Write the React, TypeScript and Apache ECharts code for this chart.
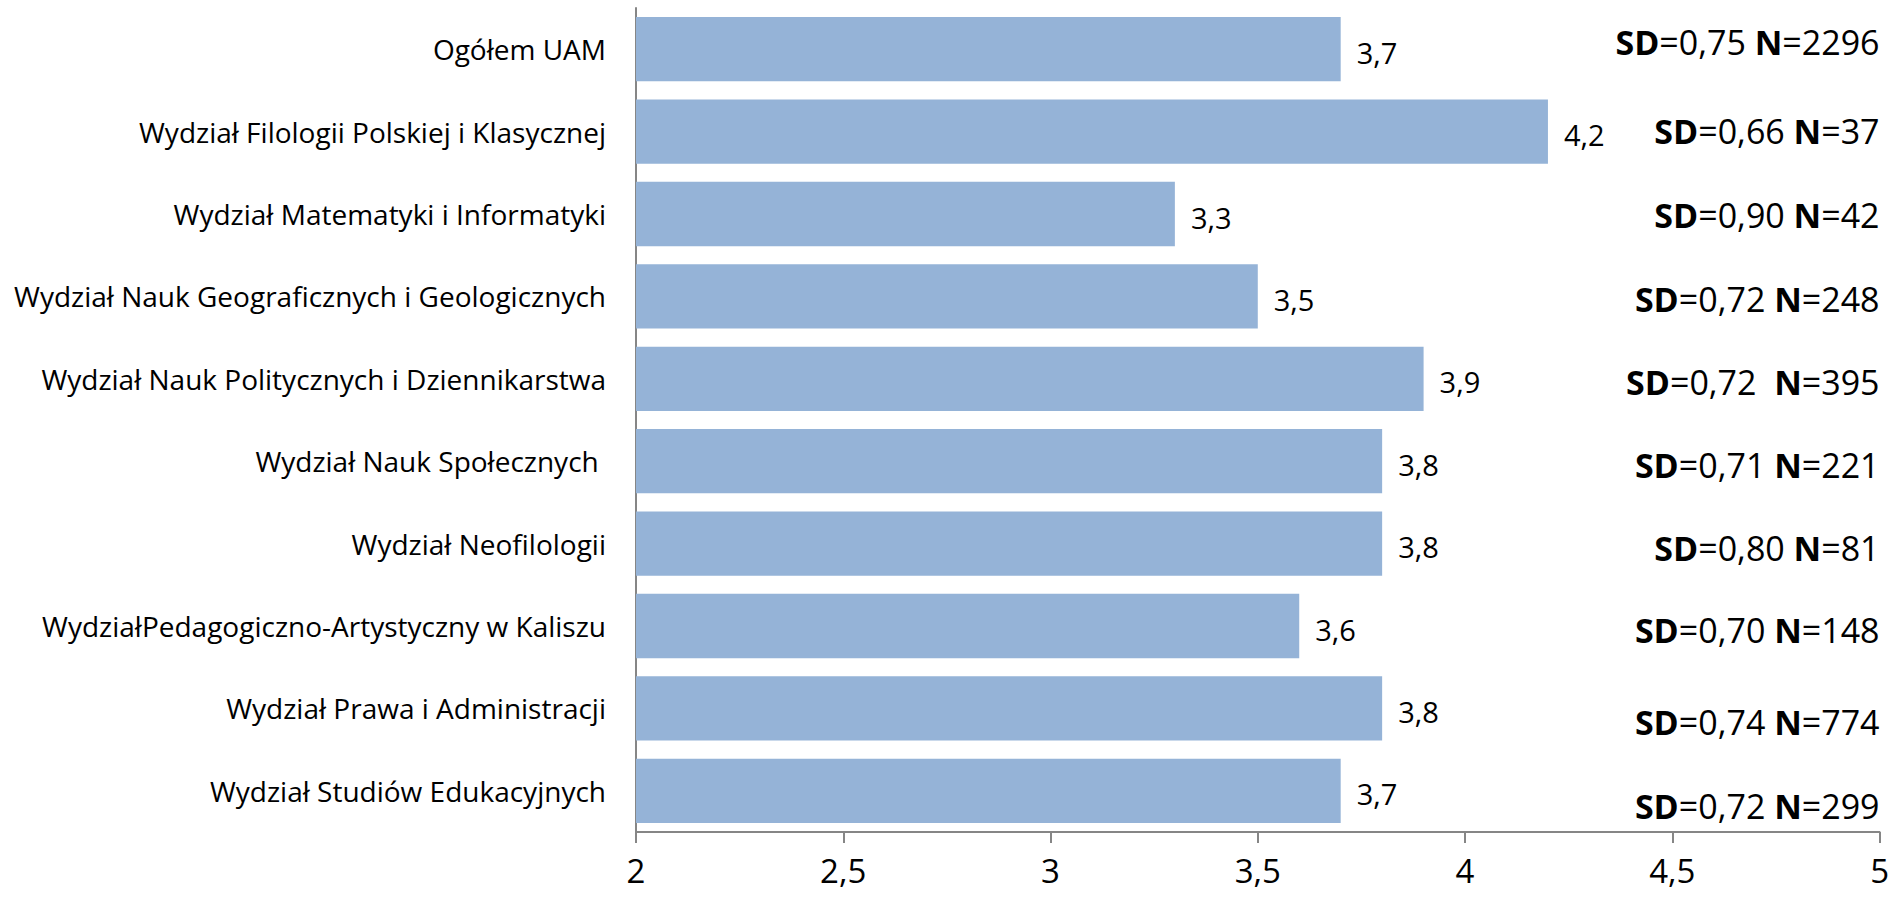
import React, { useEffect, useRef } from "react";
import * as echarts from "echarts";

const categories = [
  "Ogółem UAM",
  "Wydział Filologii Polskiej i Klasycznej",
  "Wydział Matematyki i Informatyki",
  "Wydział Nauk Geograficznych i Geologicznych",
  "Wydział Nauk Politycznych i Dziennikarstwa",
  "Wydział Nauk Społecznych ",
  "Wydział Neofilologii",
  "WydziałPedagogiczno-Artystyczny w Kaliszu",
  "Wydział Prawa i Administracji",
  "Wydział Studiów Edukacyjnych",
];
const means = [3.7, 4.2, 3.3, 3.5, 3.9, 3.8, 3.8, 3.6, 3.8, 3.7];
const sdValues = [0.75, 0.66, 0.9, 0.72, 0.72, 0.71, 0.8, 0.7, 0.74, 0.72];
const nValues = [2296, 37, 42, 248, 395, 221, 81, 148, 774, 299];
const xTicks = [2, 2.5, 3, 3.5, 4, 4.5, 5];

// styling: vertical nudges (px) of the SD/N notes, and separators
const sdOffsets = [-7, -1, 1, 3, 3, 4, 4, 4, 14, 15];
const sdSeparators = [" ", " ", " ", " ", "  ", " ", " ", " ", " ", " "];

const FONT = "'Open Sans', Lato, sans-serif";
const comma = (v: number) => String(v).replace(".", ",");

export default function App() {
  const ref = useRef<HTMLDivElement>(null);
  useEffect(() => {
    if (!ref.current) return;
    const chart = echarts.init(ref.current, undefined, { renderer: "svg" });
    chart.setOption({
      animation: false,
      backgroundColor: "#ffffff",
      textStyle: { fontFamily: FONT },
      grid: { left: 636, right: 10, top: 8, bottom: 74 },
      xAxis: {
        type: "value",
        min: xTicks[0],
        max: xTicks[xTicks.length - 1],
        interval: 0.5,
        axisLine: { show: true, lineStyle: { color: "#868686", width: 2 } },
        axisTick: { show: true, length: 11, lineStyle: { color: "#868686", width: 2 } },
        splitLine: { show: false },
        axisLabel: {
          fontSize: 33,
          color: "#000",
          fontFamily: FONT,
          margin: 22,
          formatter: (v: number) => comma(v),
        },
      },
      yAxis: {
        type: "category",
        data: categories,
        inverse: true,
        axisLine: { show: true, lineStyle: { color: "#868686", width: 2 } },
        axisTick: { show: false },
        axisLabel: { fontSize: 28, color: "#000", fontFamily: FONT, margin: 30 },
      },
      series: [
        {
          type: "bar",
          data: means,
          barCategoryGap: "22%",
          itemStyle: { color: "#95B3D7" },
          label: {
            show: true,
            position: "right",
            distance: 16,
            fontSize: 29,
            color: "#000",
            fontFamily: FONT,
            offset: [0, 3],
            formatter: (p: any) => comma(p.value),
          },
        },
      ],
    });
    const xRight = chart.convertToPixel({ xAxisIndex: 0 }, xTicks[xTicks.length - 1]) as number;
    const graphics = categories.map((c, i) => {
      const y = chart.convertToPixel({ yAxisIndex: 0 }, c) as number;
      return {
        type: "text",
        x: xRight,
        y: y + sdOffsets[i],
        style: {
          text: `{b|SD}=${sdValues[i].toFixed(2).replace(".", ",")}${sdSeparators[i]}{b|N}=${nValues[i]}`,
          rich: {
            b: { fontWeight: "bold", fontSize: 34, fontFamily: FONT, fill: "#000" },
          },
          fontSize: 34,
          fontFamily: FONT,
          fill: "#000",
          align: "right",
          textAlign: "right",
          verticalAlign: "middle",
          textVerticalAlign: "middle",
        },
      };
    });
    chart.setOption({ graphic: graphics });
    return () => chart.dispose();
  }, []);
  return (
    <div
      ref={ref}
      style={{ position: "fixed", left: 0, top: 0, width: 1892, height: 906, background: "#fff" }}
    />
  );
}
